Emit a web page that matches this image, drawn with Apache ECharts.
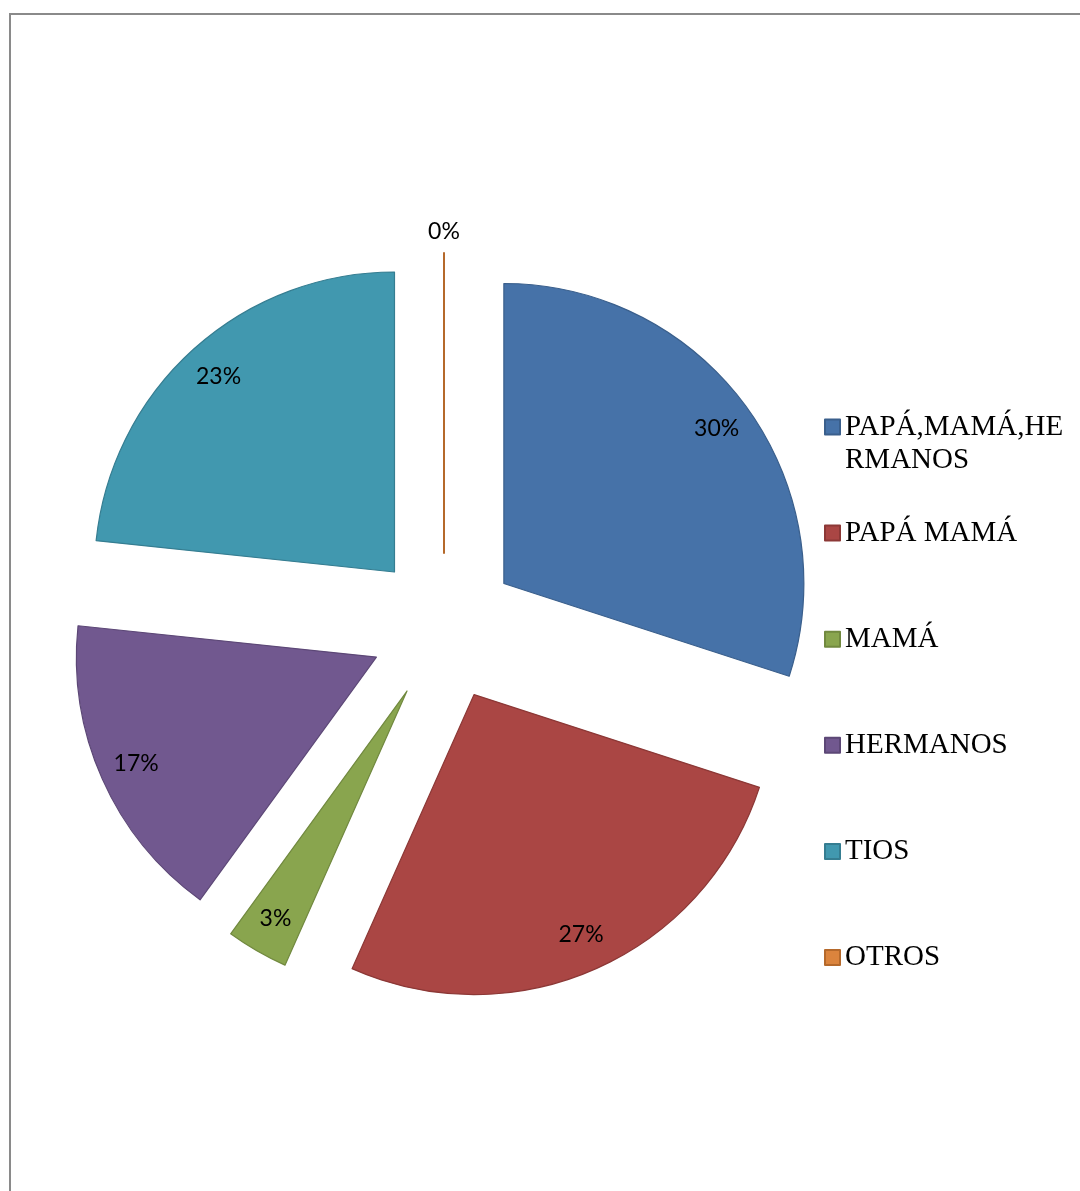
<!DOCTYPE html>
<html><head><meta charset="utf-8">
<script src="https://cdn.jsdelivr.net/npm/echarts@6/dist/echarts.min.js"></script>
<style>html,body{margin:0;padding:0;background:#fff}#c{width:1080px;height:1191px}</style>
</head><body><div id="c"></div>
<script>
const categories = ['PAPÁ,MAMÁ,HERMANOS', 'PAPÁ MAMÁ', 'MAMÁ', 'HERMANOS', 'TIOS', 'OTROS'];
const counts = [9, 8, 1, 5, 7, 0];

const fillColors = ['#4672A8', '#AA4644', '#89A54E', '#71588F', '#4198AF', '#DB843D'];
const edgeColors = ['#3A5F8C', '#8C3836', '#71893F', '#5C4776', '#357D91', '#B5692B'];

const CENTER = [444, 627];
const chart = echarts.init(document.getElementById('c'), null, {renderer: 'canvas'});

const pctFormatter = p => Math.round(p.percent) + '%';

chart.setOption({
  animation: false,
  backgroundColor: '#ffffff',
  graphic: [{
    type: 'rect', silent: true, z: -10,
    shape: {x: 10, y: 14, width: 1200, height: 1300},
    style: {fill: 'none', stroke: '#8a8a8a', lineWidth: 2}
  }],
  legend: {
    orient: 'vertical', left: 824, top: 377.5, padding: 0,
    itemGap: 7.1, itemWidth: 15, itemHeight: 15, icon: 'rect',
    selectedMode: false,
    textStyle: {fontFamily: 'Liberation Serif', fontSize: 29, color: '#000', lineHeight: 33, padding: [33, 0, 33, 0]},
    // the long first entry wraps onto a second line below its marker
    formatter: name => name === categories[0] ? '\n' + name : name,
    data: categories.map((n, i) => i === 0
      ? {name: n, textStyle: {padding: 0, width: 250, overflow: 'breakAll'}}
      : {name: n})
  },
  series: [{
    type: 'pie', name: 'main', center: CENTER, radius: 300,
    startAngle: 90, clockwise: true,
    selectedMode: 'multiple', selectedOffset: 74,
    label: {show: false}, labelLine: {show: false},
    emphasis: {disabled: true},
    data: categories.map((n, i) => ({
      name: n, value: counts[i], selected: true,
      itemStyle: {color: fillColors[i], borderColor: edgeColors[i], borderWidth: i === 5 ? 2 : 1.2}
    }))
  }, {
    type: 'pie', name: 'labels', center: CENTER, radius: [220, 300],
    startAngle: 90, clockwise: true, silent: true,
    selectedMode: 'multiple', selectedOffset: 74,
    avoidLabelOverlap: false,
    itemStyle: {color: 'rgba(0,0,0,0)', borderWidth: 0},
    label: {show: true, position: 'inside', formatter: pctFormatter, color: '#000', fontFamily: 'Lato', fontSize: 23},
    labelLine: {show: false},
    labelLayout: p => p.dataIndex === 5 ? {dy: -58} : {},
    emphasis: {disabled: true},
    data: categories.map((n, i) => ({name: n, value: counts[i], selected: true}))
  }]
});
</script>
</body></html>
